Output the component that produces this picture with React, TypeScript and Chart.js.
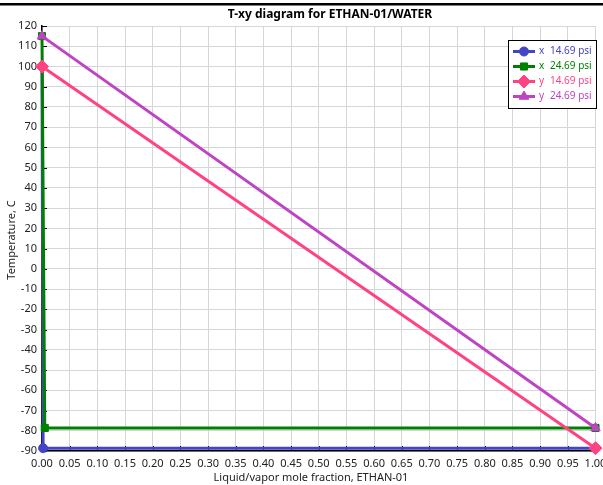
import React, { useEffect, useRef } from "react";
import { Chart, registerables } from "chart.js";
import { drawPoint } from "chart.js/helpers";
Chart.register(...registerables);

const chartTitle = "T-xy diagram for ETHAN-01/WATER";
const xTitle = "Liquid/vapor mole fraction, ETHAN-01";
const yTitle = "Temperature, C";

const seriesKinds = ["x", "x", "y", "y"];
const seriesPressures = ["14.69 psi", "24.69 psi", "14.69 psi", "24.69 psi"];
const seriesColors = ["#4444C4", "#008000", "#FF4382", "#BE44C4"];
const seriesMarkers = ["circle", "rect", "rectRot", "triangle"];
const markerRadii = [4.5, 5, 6.5, 5.5];

const xLiq1469 = [0, 0.002, 1];
const tLiq1469 = [100, -88.6, -88.6];
const xLiq2469 = [0, 0.005, 1];
const tLiq2469 = [115, -78.6, -78.6];
const yVap1469 = [0, 1];
const tVap1469 = [100, -88.6];
const yVap2469 = [0, 1];
const tVap2469 = [115, -78.6];

const seriesX = [xLiq1469, xLiq2469, yVap1469, yVap2469];
const seriesT = [tLiq1469, tLiq2469, tVap1469, tVap2469];

const FONT = "'Noto Sans', 'Open Sans', sans-serif";

const decorPlugin = {
  id: "decor",
  beforeDraw(chart: any) {
    const ctx = chart.ctx;
    ctx.save();
    ctx.fillStyle = "#000";
    ctx.fillRect(0, 3, chart.width, 2.5);
    ctx.restore();
  },
  beforeDatasetsDraw(chart: any) {
    const ctx = chart.ctx;
    const { left, bottom } = chart.chartArea;
    const xs = chart.scales.x;
    const ys = chart.scales.y;
    ctx.save();
    ctx.strokeStyle = "#000";
    ctx.lineWidth = 1;
    ys.ticks.forEach((t: any) => {
      const py = Math.round(ys.getPixelForValue(t.value)) + 0.5;
      ctx.beginPath();
      ctx.moveTo(left, py);
      ctx.lineTo(left + 5, py);
      ctx.stroke();
    });
    xs.ticks.forEach((t: any) => {
      const px = Math.round(xs.getPixelForValue(t.value)) + 0.5;
      ctx.beginPath();
      ctx.moveTo(px, bottom);
      ctx.lineTo(px, bottom - 5);
      ctx.stroke();
    });
    ctx.restore();
  },
  afterDraw(chart: any) {
    const ctx = chart.ctx;
    ctx.save();
    ctx.fillStyle = "#000";
    ctx.textAlign = "center";
    ctx.textBaseline = "middle";
    ctx.font = `bold 12px ${FONT}`;
    ctx.fillText(chartTitle, 330, 15);
    ctx.font = `11px ${FONT}`;
    ctx.fillStyle = "#222";
    ctx.fillText(xTitle, 311, 478);
    ctx.translate(12, 240);
    ctx.rotate(-Math.PI / 2);
    ctx.fillText(yTitle, 0, 0);
    ctx.restore();

    // legend
    ctx.save();
    const bx = 508.5, by = 40.5, bw = 88, bh = 68;
    ctx.fillStyle = "#fff";
    ctx.fillRect(bx, by, bw, bh);
    ctx.strokeStyle = "#000";
    ctx.lineWidth = 1;
    ctx.strokeRect(bx, by, bw, bh);
    ctx.font = `10px ${FONT}`;
    ctx.textBaseline = "middle";
    ctx.textAlign = "left";
    for (let i = 0; i < 4; i++) {
      const ry = 51.5 + i * 15;
      ctx.strokeStyle = seriesColors[i];
      ctx.lineWidth = 3;
      ctx.beginPath();
      ctx.moveTo(513, ry);
      ctx.lineTo(535, ry);
      ctx.stroke();
      ctx.fillStyle = seriesColors[i];
      ctx.lineWidth = 1;
      drawPoint(ctx, { pointStyle: seriesMarkers[i], radius: markerRadii[i], borderWidth: 1, rotation: 0 } as any, 524, ry);
      ctx.fillStyle = seriesColors[i];
      ctx.fillText(seriesKinds[i], 539, ry);
      ctx.fillText(seriesPressures[i], 550, ry);
    }
    ctx.restore();
  },
};

export default function App() {
  const ref = useRef<HTMLCanvasElement | null>(null);
  useEffect(() => {
    if (!ref.current) return;
    const datasets = seriesX.map((xs, i) => ({
      label: `${seriesKinds[i]} ${seriesPressures[i]}`,
      data: xs.map((x, j) => ({ x, y: seriesT[i][j] })),
      borderColor: seriesColors[i],
      backgroundColor: seriesColors[i],
      borderWidth: 3,
      pointStyle: seriesMarkers[i],
      pointRadius: markerRadii[i],
      pointBorderWidth: 1,
      showLine: true,
      tension: 0,
      order: 4 - i,
      clip: false as any,
    }));
    const chart = new Chart(ref.current, {
      type: "scatter",
      data: { datasets },
      plugins: [decorPlugin],
      options: {
        animation: false,
        responsive: false,
        layout: { padding: { top: 26, right: 6.5, left: 0, bottom: 0 } },
        plugins: { legend: { display: false }, tooltip: { enabled: false }, title: { display: false } },
        scales: {
          x: {
            type: "linear",
            min: 0,
            max: 1,
            afterFit: (s: any) => {
              s.height = 34;
              s.paddingLeft = 0;
              s.paddingRight = 0;
            },
            ticks: {
              stepSize: 0.05,
              padding: 6,
              color: "#222",
              font: { family: FONT, size: 11 },
              maxRotation: 0,
              autoSkip: false,
              callback: (v: any) => Number(v).toFixed(2),
            },
            grid: { color: "#d6d6d6", lineWidth: 1, drawTicks: false },
            border: { display: true, color: "#000", width: 1.5 },
          },
          y: {
            type: "linear",
            min: -90,
            max: 120,
            afterFit: (s: any) => {
              s.width = 42;
              s.paddingTop = 0;
              s.paddingBottom = 0;
            },
            ticks: {
              stepSize: 10,
              padding: 5,
              color: "#222",
              font: { family: FONT, size: 11 },
              autoSkip: false,
            },
            grid: { color: "#d6d6d6", lineWidth: 1, drawTicks: false },
            border: { display: true, color: "#000", width: 1.5 },
          },
        },
      },
    });
    return () => chart.destroy();
  }, []);
  return (
    <div style={{ position: "absolute", left: 0, top: 0, width: 603, height: 485, background: "#fff" }}>
      <canvas ref={ref} width={603} height={485} style={{ display: "block" }} />
    </div>
  );
}
